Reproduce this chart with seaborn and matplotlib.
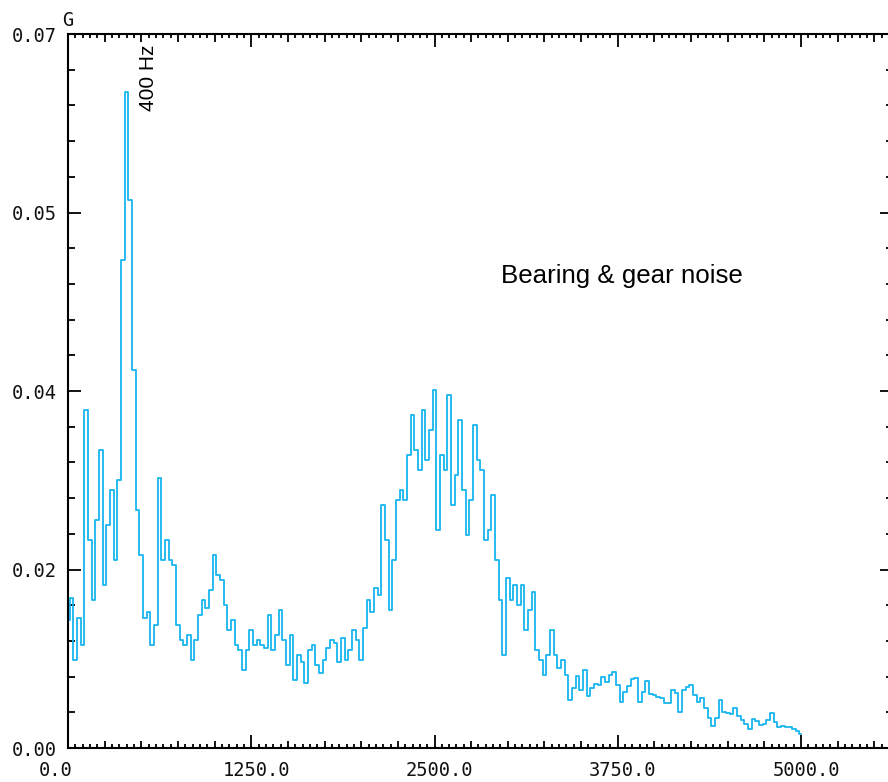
import numpy as np
import pandas as pd
import matplotlib
matplotlib.use("Agg")
import matplotlib.pyplot as plt
import matplotlib.transforms as mtransforms
import seaborn as sns

# ---- data (acceleration spectrum, G, read every 25 Hz from 0 to 5000 Hz) ----
freq_step_hz = 25
amplitude_g = [
    0.01255, 0.01471, 0.00863, 0.01275, 0.01010, 0.03314, 0.02039, 0.01451, 0.02235, 0.02922,
    0.01598, 0.02186, 0.02529, 0.01843, 0.02627, 0.04784, 0.06431, 0.05373, 0.03706, 0.02333,
    0.01892, 0.01275, 0.01333, 0.01010, 0.01206, 0.02647, 0.01843, 0.02039, 0.01843, 0.01794,
    0.01206, 0.01059, 0.01010, 0.01108, 0.00863, 0.01059, 0.01304, 0.01451, 0.01373, 0.01549,
    0.01892, 0.01696, 0.01647, 0.01402, 0.01157, 0.01255, 0.01010, 0.00961, 0.00765, 0.00961,
    0.01157, 0.01010, 0.01059, 0.01010, 0.00980, 0.01304, 0.00961, 0.01108, 0.01353, 0.01059,
    0.00814, 0.01108, 0.00667, 0.00912, 0.00843, 0.00637, 0.00961, 0.01010, 0.00814, 0.00735,
    0.00863, 0.00980, 0.01059, 0.01029, 0.00843, 0.01078, 0.00863, 0.00961, 0.01157, 0.01059,
    0.00863, 0.01176, 0.01451, 0.01333, 0.01569, 0.01500, 0.02382, 0.02039, 0.01353, 0.01843,
    0.02431, 0.02529, 0.02431, 0.02873, 0.03265, 0.02922, 0.02725, 0.03314, 0.02824, 0.03118,
    0.03510, 0.02137, 0.02873, 0.02725, 0.03461, 0.02382, 0.02676, 0.03216, 0.02529, 0.02088,
    0.02431, 0.03167, 0.02824, 0.02725, 0.02039, 0.02137, 0.02480, 0.01843, 0.01451, 0.00912,
    0.01667, 0.01451, 0.01598, 0.01402, 0.01598, 0.01157, 0.01353, 0.01529, 0.00961, 0.00863,
    0.00716, 0.00912, 0.01157, 0.00912, 0.00784, 0.00863, 0.00716, 0.00471, 0.00588, 0.00706,
    0.00569, 0.00765, 0.00510, 0.00588, 0.00627, 0.00618, 0.00696, 0.00647, 0.00716, 0.00745,
    0.00618, 0.00451, 0.00549, 0.00608, 0.00676, 0.00686, 0.00451, 0.00549, 0.00657, 0.00529,
    0.00520, 0.00500, 0.00490, 0.00441, 0.00441, 0.00569, 0.00539, 0.00353, 0.00569, 0.00598,
    0.00618, 0.00520, 0.00451, 0.00490, 0.00392, 0.00294, 0.00216, 0.00294, 0.00471, 0.00353,
    0.00343, 0.00333, 0.00392, 0.00314, 0.00275, 0.00235, 0.00186, 0.00284, 0.00265, 0.00225,
    0.00235, 0.00275, 0.00343, 0.00255, 0.00206, 0.00216, 0.00206, 0.00206, 0.00186, 0.00167,
    0.00137,
]
frequency_hz = np.arange(len(amplitude_g)) * freq_step_hz

x_tick_values = [0, 1250, 2500, 3750, 5000]
x_tick_labels = ["0.0", "1250.0", "2500.0", "3750.0", "5000.0"]
y_tick_values = [0.0, 0.0175, 0.035, 0.0525, 0.07]
y_tick_labels = ["0.00", "0.02", "0.04", "0.05", "0.07"]

unit_label = "G"
peak_label = "400 Hz"
note_label = "Bearing & gear noise"

df = pd.DataFrame({"freq": frequency_hz, "amp": amplitude_g})

# ---- style ----
sns.set_theme(style="white")
plt.rcParams["font.family"] = ["DejaVu Sans Mono", "DejaVu Sans"]

W, H = 888, 782
PT = 0.72  # points per pixel at dpi 100
fig = plt.figure(figsize=(W / 100, H / 100), dpi=100)
ax_left, ax_bottom, ax_w, ax_h = 68, 34, 825, 714
ax = fig.add_axes([ax_left / W, ax_bottom / H, ax_w / W, ax_h / H])

line_color = "#17B5EE"
sns.lineplot(data=df, x="freq", y="amp", ax=ax, color=line_color,
             linewidth=1.3, drawstyle="steps-mid", estimator=None)

px_per_hz = 733 / 5000.0
ax.set_xlim(0, ax_w / px_per_hz)
ax.set_ylim(0, 0.07)
ax.set_xlabel("")
ax.set_ylabel("")

# ticks
ax.set_xticks(x_tick_values)
ax.set_xticklabels(x_tick_labels)
ax.set_xticks(np.arange(0, 5600, 50), minor=True)
ax.set_yticks(y_tick_values)
ax.set_yticklabels(y_tick_labels)
ax.set_yticks(np.arange(0, 0.0701, 0.0035), minor=True)

for sp in ax.spines.values():
    sp.set_color("black")
    sp.set_linewidth(1.5)

ax.tick_params(which="both", direction="in", top=True, right=True, bottom=True, left=True,
               color="black", width=1.3, labelsize=13.5, labelcolor="#111111")
ax.tick_params(axis="x", which="major", length=13 * PT, pad=9)
ax.tick_params(axis="x", which="minor", length=4 * PT)
ax.tick_params(axis="y", which="major", length=13 * PT, pad=8)
ax.tick_params(axis="y", which="minor", length=6.7 * PT)

# medium-length x minor ticks every 250 Hz
xminor_locs = ax.xaxis.get_minorticklocs()
for loc, tick in zip(xminor_locs, ax.xaxis.get_minor_ticks(len(xminor_locs))):
    if abs(loc % 250) < 1e-6:
        tick.tick1line.set_markersize(7.5 * PT)
        tick.tick2line.set_markersize(7.5 * PT)

# x tick label offsets (labels sit slightly right of ticks; the first one left)
for i, lab in enumerate(ax.get_xticklabels()):
    dx = -12 if i == 0 else 5
    lab.set_transform(lab.get_transform() +
                      mtransforms.ScaledTranslation(dx / 100, 0, fig.dpi_scale_trans))

# unit label
fig.text(68 / W, 1 - 20 / H, unit_label, ha="center", va="center",
         fontsize=13.5, color="#111111", family=["DejaVu Sans Mono"])

# annotations
ax.text((148 - 68) / px_per_hz, (748 - 78) / 714 * 0.07, peak_label, rotation=90,
        ha="center", va="center", fontsize=15, color="black",
        family=["Liberation Sans", "DejaVu Sans"])
ax.text((622 - 68) / px_per_hz, (748 - 276) / 714 * 0.07, note_label,
        ha="center", va="center", fontsize=18.6, color="black",
        family=["Liberation Sans", "DejaVu Sans"])

fig.savefig("out.png", dpi=100, facecolor="white")
